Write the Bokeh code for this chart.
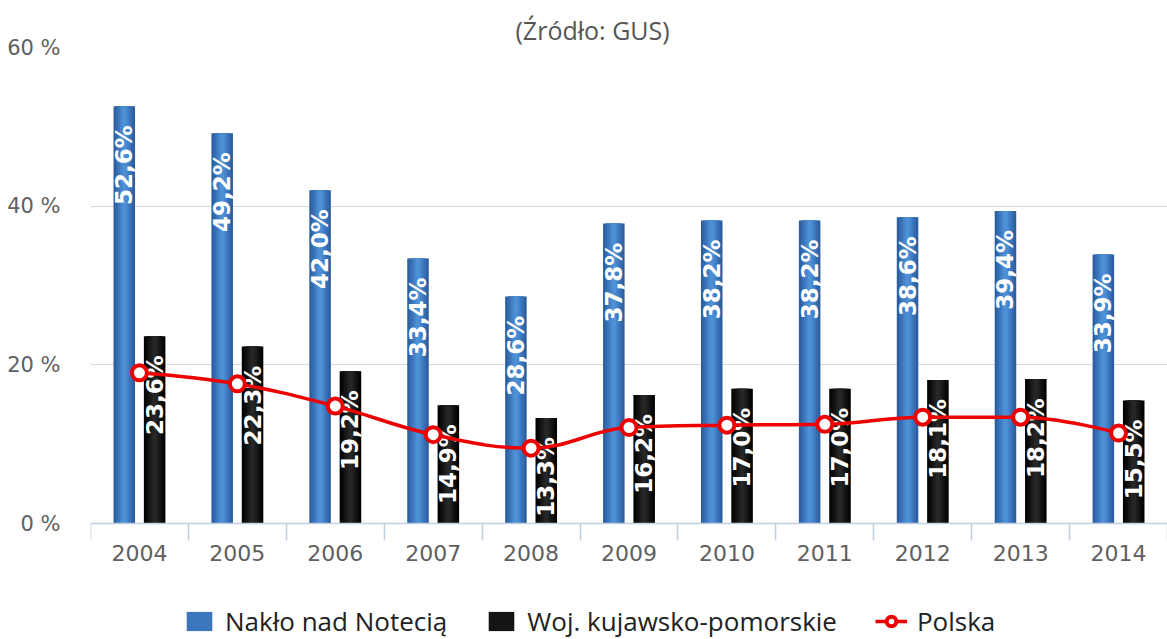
import numpy as np
from bokeh.plotting import figure
from bokeh.models import Range1d, FixedTicker, Legend, LegendItem, Title
from bokeh.core.properties import value
from bokeh.embed import file_html
from bokeh.resources import INLINE

# ---- data ----
years = ["2004", "2005", "2006", "2007", "2008", "2009", "2010", "2011", "2012", "2013", "2014"]
naklo = [52.6, 49.2, 42.0, 33.4, 28.6, 37.8, 38.2, 38.2, 38.6, 39.4, 33.9]
wojewodztwo = [23.6, 22.3, 19.2, 14.9, 13.3, 16.2, 17.0, 17.0, 18.1, 18.2, 15.5]
polska = [19.0, 17.6, 14.8, 11.2, 9.5, 12.1, 12.4, 12.5, 13.4, 13.4, 11.4]
y_ticks = [0, 20, 40, 60]
y_tick_labels = ["0 %", "20 %", "40 %", "60 %"]
series_names = ["Nakło nad Notecią", "Woj. kujawsko-pomorskie", "Polska"]
subtitle = "(Źródło: GUS)"

idx = list(range(len(years)))
BAR_W = 0.22
OFF = 0.155
x_blue = [i - OFF for i in idx]
x_black = [i + OFF for i in idx]

# layout (pixels): plot area top, zero line, canvas bottom
W, H = 1167, 639
TOP, ZERO_PX = 47, 523
Y_MAX = 60
y_min = -Y_MAX * (H - ZERO_PX) / (ZERO_PX - TOP)   # room below zero for axis labels and legend


def fmt(v):
    return f"{v:.1f}%".replace(".", ",")


p = figure(width=W, height=H, output_backend="svg", toolbar_location=None,
           x_range=Range1d(-0.5, len(years) - 0.5), y_range=Range1d(y_min, Y_MAX),
           min_border_left=90, min_border_right=0, min_border_top=TOP, min_border_bottom=0)
p.outline_line_color = None
p.background_fill_color = "white"
p.border_fill_color = "white"

p.add_layout(Title(text=subtitle, align="left", offset=425, standoff=2,
                   text_font="Open Sans", text_font_size="25px",
                   text_font_style="normal", text_color="#555555"), "above")

# grid
p.xgrid.visible = False
p.ygrid.ticker = FixedTicker(ticks=y_ticks)
p.ygrid.grid_line_color = "#d8d8d8"
p.ygrid.grid_line_width = 1

# y axis
p.yaxis.ticker = FixedTicker(ticks=y_ticks)
p.yaxis.major_label_overrides = {t: l for t, l in zip(y_ticks, y_tick_labels)}
p.yaxis.axis_line_color = None
p.yaxis.major_tick_line_color = None
p.yaxis.minor_tick_line_color = None
p.yaxis.major_tick_out = 0
p.yaxis.major_tick_in = 0
p.yaxis.major_label_standoff = 30
p.yaxis.major_label_text_font = "DejaVu Sans"
p.yaxis.major_label_text_font_size = "21px"
p.yaxis.major_label_text_color = "#606060"

# x axis, drawn at the zero line
p.xaxis.fixed_location = 0
p.xaxis.ticker = FixedTicker(ticks=idx, minor_ticks=[i - 0.5 for i in range(len(years) + 1)])
p.xaxis.major_label_overrides = {i: y for i, y in zip(idx, years)}
p.xaxis.axis_line_color = "#c0d0e0"
p.xaxis.axis_line_width = 1.5
p.xaxis.major_tick_line_color = None
p.xaxis.major_tick_out = 0
p.xaxis.major_tick_in = 0
p.xaxis.minor_tick_line_color = "#c0d0e0"
p.xaxis.minor_tick_line_width = 1.5
p.xaxis.minor_tick_out = 17
p.xaxis.minor_tick_in = 0
p.xaxis.major_label_standoff = 4
p.xaxis.major_label_text_font = "DejaVu Sans"
p.xaxis.major_label_text_font_size = "22px"
p.xaxis.major_label_text_color = "#606060"

# bars with a cylinder-like shading (nested layers)
blue_layers = [("#2d5f9f", 1.0), ("#356bae", 0.8), ("#3c77be", 0.6), ("#4584cb", 0.4), ("#4e90d5", 0.2)]
black_layers = [("#030303", 1.0), ("#0b0b0b", 0.8), ("#141414", 0.6), ("#1d1d1d", 0.4), ("#262626", 0.2)]
blue_r = []
for col, f in blue_layers:
    blue_r.append(p.vbar(x=x_blue, top=naklo, bottom=0, width=BAR_W * f,
                         fill_color=col, line_color=None))
black_r = []
for col, f in black_layers:
    black_r.append(p.vbar(x=x_black, top=wojewodztwo, bottom=0, width=BAR_W * f,
                          fill_color=col, line_color=None))

# bar labels (rotated, inside the top of the bars)
for xs, vals in ((x_blue, naklo), (x_black, wojewodztwo)):
    p.text(x=xs, y=vals, text=[fmt(v) for v in vals], angle=np.pi / 2,
           text_align="right", text_baseline="middle", y_offset=19,
           text_color="white", text_font=value("DejaVu Sans"), text_font_style="bold",
           text_font_size="23px")


# Polska - smooth spline (Highcharts-like control points computed from data)
def spline_controls(xs, ys, smoothing=1.5):
    n = len(xs)
    left = [None] * n
    right = [None] * n
    denom = smoothing + 1
    for i in range(n):
        px, py = xs[i], ys[i]
        if 0 < i < n - 1:
            lx, ly = xs[i - 1], ys[i - 1]
            nx, ny = xs[i + 1], ys[i + 1]
            lcx = (smoothing * px + lx) / denom
            lcy = (smoothing * py + ly) / denom
            rcx = (smoothing * px + nx) / denom
            rcy = (smoothing * py + ny) / denom
            if rcx != lcx:
                corr = ((rcy - lcy) * (rcx - px)) / (rcx - lcx) + py - rcy
                lcy += corr
                rcy += corr
            if lcy > ly and lcy > py:
                lcy = max(ly, py); rcy = 2 * py - lcy
            elif lcy < ly and lcy < py:
                lcy = min(ly, py); rcy = 2 * py - lcy
            if rcy > ny and rcy > py:
                rcy = max(ny, py); lcy = 2 * py - rcy
            elif rcy < ny and rcy < py:
                rcy = min(ny, py); lcy = 2 * py - rcy
            left[i] = (lcx, lcy)
            right[i] = (rcx, rcy)
        else:
            left[i] = (px, py)
            right[i] = (px, py)
    return left, right


lc, rc = spline_controls(idx, polska)
seg = range(len(idx) - 1)
line_r = p.bezier(x0=[idx[i] for i in seg], y0=[polska[i] for i in seg],
                  x1=[idx[i + 1] for i in seg], y1=[polska[i + 1] for i in seg],
                  cx0=[rc[i][0] for i in seg], cy0=[rc[i][1] for i in seg],
                  cx1=[lc[i + 1][0] for i in seg], cy1=[lc[i + 1][1] for i in seg],
                  line_color="#ee0000", line_width=3.5)
mark_r = p.scatter(x=idx, y=polska, marker="circle", size=15, fill_color="white",
                   line_color="#ee0000", line_width=4)

legend = Legend(items=[
    LegendItem(label=series_names[0], renderers=[blue_r[2]]),
    LegendItem(label=series_names[1], renderers=[black_r[2]]),
    LegendItem(label=series_names[2], renderers=[line_r, mark_r]),
], orientation="horizontal", location=(93, 0), padding=0, margin=0, spacing=38,
    glyph_width=32, glyph_height=24, label_standoff=10,
    label_text_font="Open Sans", label_text_font_size="26px", label_text_color="#222222",
    border_line_color=None, background_fill_alpha=0)
p.add_layout(legend, "center")

open("out.html", "w").write(file_html(p, INLINE))
